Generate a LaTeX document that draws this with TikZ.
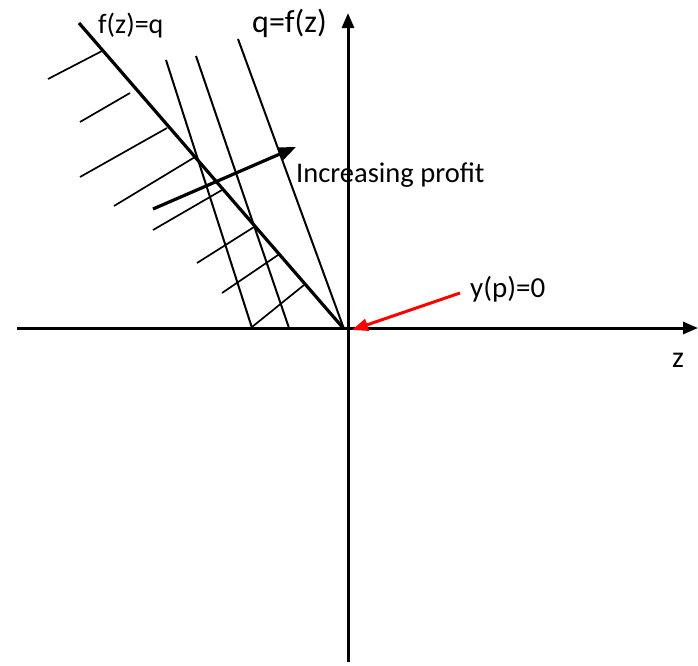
\documentclass[tikz,border=0pt]{standalone}
\usepackage{fontspec}
\setmainfont{Carlito}
\usetikzlibrary{arrows.meta}

\begin{document}
\begin{tikzpicture}[
    x=1pt,
    y=-1pt,
    line cap=butt,
    line join=round,
    axis/.style={line width=3pt,-{Triangle[length=15pt,width=12pt]}},
    frontier/.style={line width=3.2pt},
    isoline/.style={line width=2pt},
    hatch/.style={line width=1.7pt},
    lbl/.style={anchor=base west,inner sep=0pt}
]

\useasboundingbox (0,0) rectangle (698,665);

% -------------------------------------------------
% Оси
% -------------------------------------------------

\coordinate (Zl) at (17,328);
\coordinate (Zr) at (698,328);
\coordinate (Qb) at (348,662);
\coordinate (Qt) at (348,13);

\draw[axis] (Zl)--(Zr);
\draw[axis] (Qb)--(Qt);

% -------------------------------------------------
% Граница f(z)=q и изолинии прибыли
% -------------------------------------------------

\coordinate (O)  at (344,329);
\coordinate (F)  at (79,23);

\coordinate (L1) at (166,60);
\coordinate (E1) at (252,328);
\coordinate (L2) at (196,56);
\coordinate (E2) at (289,328);
\coordinate (L3) at (238,39);

\draw[frontier] (F)--(O);
\draw[isoline] (L1)--(E1);
\draw[isoline] (L2)--(E2);
\draw[isoline] (L3)--(O);

% -------------------------------------------------
% Штриховка
% -------------------------------------------------

\foreach \ax/\ay/\bx/\by in {48/79/102/51, 80/122/130/93, 80/177/167/128,
                             114/206/195/157, 153/230/222/190, 197/263/254/227,
                             222/293/278/255, 252/327/304/285}
    \draw[hatch] (\ax,\ay)--(\bx,\by);

% -------------------------------------------------
% Стрелки
% -------------------------------------------------

\coordinate (P0) at (153,209);
\coordinate (P1) at (296,147);
\draw[line width=3.2pt,-{Triangle[length=17pt,width=13pt]}] (P0)--(P1);

\coordinate (R0) at (460,293);
\coordinate (R1) at (352,330);
\draw[red,line width=3pt,-{Triangle[length=16pt,width=12pt]}] (R0)--(R1);

% -------------------------------------------------
% Подписи
% -------------------------------------------------

\node[lbl,font=\fontsize{28}{30}\selectfont] (fq)   at (98,33)   {f(z)=q};
\node[lbl,font=\fontsize{32}{34}\selectfont] (qf)   at (252,32)  {q=f(z)};
\node[lbl,font=\fontsize{28.5}{30}\selectfont] (inc)  at (296,182) {Increasing profit};
\node[lbl,font=\fontsize{29}{31}\selectfont] (yp)   at (470,297) {y(p)=0};
\node[lbl,font=\fontsize{30}{32}\selectfont] (zlab) at (672,367) {z};

\end{tikzpicture}
\end{document}
